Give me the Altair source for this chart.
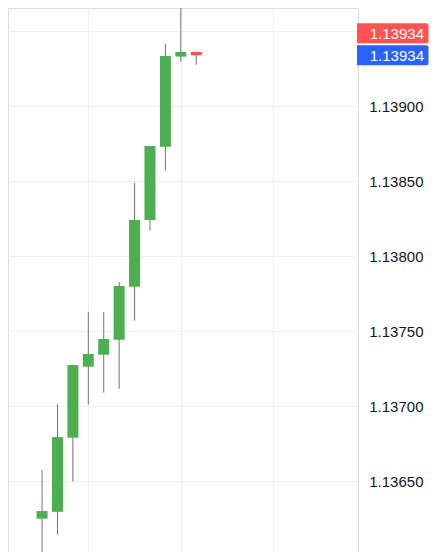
import altair as alt
import pandas as pd

# ---- data ----
candle_index = [1, 2, 3, 4, 5, 6, 7, 8, 9, 10, 11]
opens  = [1.136251, 1.136297, 1.136791, 1.137264, 1.137344, 1.137444, 1.137797, 1.138242, 1.138731, 1.139331, 1.139362]
highs  = [1.136575, 1.137015, 1.137275, 1.137629, 1.137629, 1.137829, 1.138489, 1.138735, 1.139415, 1.139800, 1.139362]
lows   = [1.135900, 1.136144, 1.136497, 1.137011, 1.137091, 1.137117, 1.137571, 1.138171, 1.138571, 1.139297, 1.139277]
closes = [1.136302, 1.136795, 1.137275, 1.137349, 1.137449, 1.137802, 1.138242, 1.138735, 1.139335, 1.139362, 1.139340]

price_ticks = [1.1360, 1.1365, 1.1370, 1.1375, 1.1380, 1.1385, 1.1390, 1.1395]
time_grid = [4, 10, 16]

last_price_labels = ["1.13934", "1.13934"]
last_price_values = [1.13934, 1.13934]

UP, DOWN = "#4CAF50", "#FF5252"
WICK = "#737375"
GRID = "#F0F0F2"
FONT = "Liberation Sans"

df = pd.DataFrame({
    "i": candle_index, "open": opens, "high": highs, "low": lows, "close": closes,
})
df["dir"] = ["up" if c >= o else "down" for o, c in zip(opens, closes)]

xscale = alt.Scale(domain=[-1.208, 21.49], nice=False, zero=False, padding=0)
yscale = alt.Scale(domain=[1.136029, 1.139655], nice=False, zero=False, padding=0)

xaxis = alt.Axis(values=time_grid, grid=True, gridColor=GRID, gridWidth=1,
                 labels=False, ticks=False, domain=False, title=None)
# the 1.13950 label sits behind the price tags in the reference, so it is left blank
yaxis = alt.Axis(orient="right", values=price_ticks, format=".5f", grid=True,
                 gridColor=GRID, gridWidth=1, ticks=False, domain=False,
                 labelExpr="datum.value > 1.13940 ? '' : format(datum.value, '.5f')",
                 labelAlign="right", labelPadding=65, labelFontSize=15, labelFont=FONT,
                 labelColor="#131722", labelOverlap=False, title=None)

wicks = alt.Chart(df).mark_rule(color=WICK, strokeWidth=1, clip=True).encode(
    x=alt.X("i:Q", scale=xscale, axis=xaxis),
    y=alt.Y("low:Q", scale=yscale, axis=yaxis),
    y2="high:Q",
)

bodies = alt.Chart(df).mark_bar(size=11, clip=True).encode(
    x=alt.X("i:Q", scale=xscale),
    y=alt.Y("open:Q", scale=yscale),
    y2="close:Q",
    color=alt.Color("dir:N", scale=alt.Scale(domain=["up", "down"], range=[UP, DOWN]), legend=None),
)

tag_df = pd.DataFrame({"price": last_price_values, "label": last_price_labels,
                       "kind": ["bid", "last"]})

def tag(kind, color, off):
    d = tag_df[tag_df["kind"] == kind]
    box = alt.Chart(d).mark_rect(color=color, yOffset=off - 10, y2Offset=off + 10,
                                 cornerRadiusTopRight=2, cornerRadiusBottomRight=2).encode(
        x=alt.value(349), x2=alt.value(420.5),
        y=alt.Y("price:Q", scale=yscale), y2="price:Q",
    )
    txt = alt.Chart(d).mark_text(align="right", baseline="middle", color="white",
                                 fontSize=15, font=FONT, yOffset=off + 0.5).encode(
        x=alt.value(416),
        y=alt.Y("price:Q", scale=yscale),
        text="label:N",
    )
    return box + txt

chart = alt.layer(wicks, bodies, tag("bid", "#FF5252", -22), tag("last", "#2962FF", 0)).properties(
    width=350, height=544,
    autosize=alt.AutoSizeParams(type="none"),
    padding={"left": 0, "top": 0, "right": 72, "bottom": 0},
).configure_view(stroke=None).configure(background="white")

chart.save("out.html", embed_options={"renderer": "svg", "actions": False})
